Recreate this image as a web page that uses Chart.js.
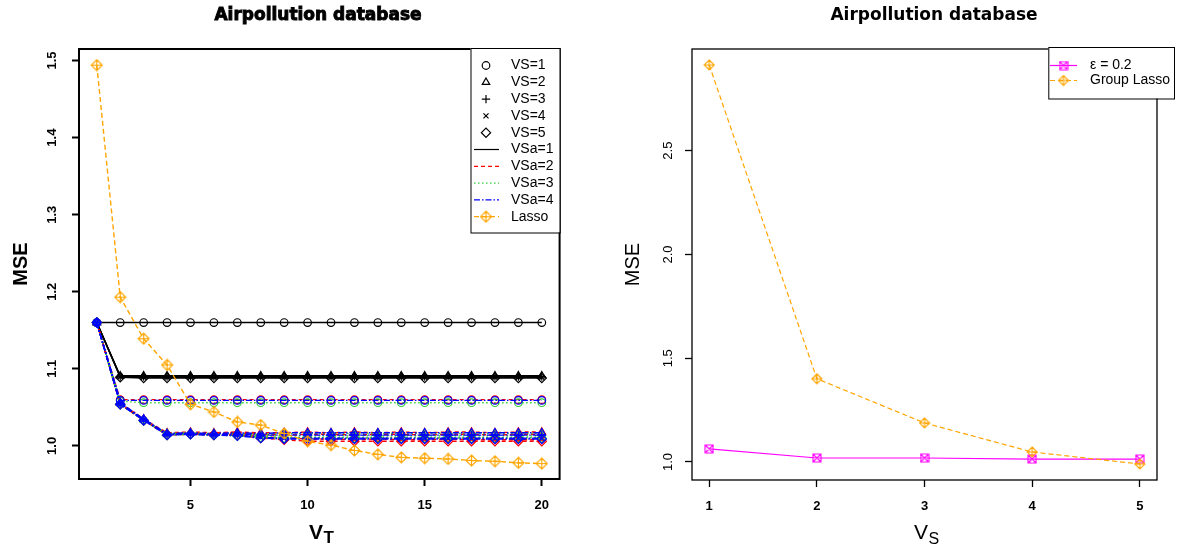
<!DOCTYPE html>
<html>
<head>
<meta charset="utf-8">
<title>Airpollution database</title>
<script src="https://cdn.jsdelivr.net/npm/chart.js@4.4.0/dist/chart.umd.min.js"></script>
<style>
  html, body { margin: 0; padding: 0; background: #fff; }
  #wrap { position: relative; width: 1186px; height: 550px; }
  .pane { position: absolute; top: 0; width: 593px; height: 550px; }
</style>
</head>
<body>
<div id="wrap">
  <div class="pane" style="left:0"><canvas id="leftChart"></canvas></div>
  <div class="pane" style="left:593px"><canvas id="rightChart"></canvas></div>
</div>
<script>
// ---- data ----
const vT = [1, 2, 3, 4, 5, 6, 7, 8, 9, 10, 11, 12, 13, 14, 15, 16, 17, 18, 19, 20];
const leftXTicks = [5, 10, 15, 20];
const leftYTicks = [1.0, 1.1, 1.2, 1.3, 1.4, 1.5];

const lassoMSE = [1.494, 1.193, 1.139, 1.105, 1.054, 1.044, 1.031, 1.027, 1.016, 1.006,
                  1.001, 0.994, 0.989, 0.985, 0.984, 0.983, 0.981, 0.980, 0.978, 0.977];

// VSa = 1 (black solid)
const vs1_vsa1 = [1.160, 1.160, 1.160, 1.160, 1.160, 1.160, 1.160, 1.160, 1.160, 1.160,
                  1.160, 1.160, 1.160, 1.160, 1.160, 1.160, 1.160, 1.160, 1.160, 1.160];
const vs2_vsa1 = [1.160, 1.091, 1.091, 1.091, 1.091, 1.091, 1.091, 1.091, 1.091, 1.091,
                  1.091, 1.091, 1.091, 1.091, 1.091, 1.091, 1.091, 1.091, 1.091, 1.091];
const vs3_vsa1 = [1.160, 1.090, 1.090, 1.090, 1.090, 1.090, 1.090, 1.090, 1.090, 1.090,
                  1.090, 1.090, 1.090, 1.090, 1.090, 1.090, 1.090, 1.090, 1.090, 1.090];
const vs4_vsa1 = [1.160, 1.090, 1.089, 1.089, 1.089, 1.089, 1.089, 1.089, 1.089, 1.089,
                  1.089, 1.089, 1.089, 1.089, 1.089, 1.089, 1.089, 1.089, 1.089, 1.089];
const vs5_vsa1 = [1.160, 1.089, 1.088, 1.088, 1.088, 1.088, 1.088, 1.088, 1.088, 1.088,
                  1.088, 1.088, 1.088, 1.088, 1.088, 1.088, 1.088, 1.088, 1.088, 1.088];

// VSa = 2 (red dashed)
const vs1_vsa2 = [1.160, 1.060, 1.060, 1.060, 1.060, 1.060, 1.060, 1.060, 1.060, 1.060,
                  1.060, 1.060, 1.060, 1.060, 1.060, 1.060, 1.060, 1.060, 1.060, 1.060];
const vs2_vsa2 = [1.160, 1.056, 1.035, 1.017, 1.018, 1.017, 1.018, 1.017, 1.017, 1.018,
                  1.017, 1.018, 1.017, 1.018, 1.017, 1.018, 1.018, 1.017, 1.018, 1.018];
const vs3_vsa2 = [1.160, 1.055, 1.034, 1.016, 1.016, 1.016, 1.017, 1.015, 1.014, 1.015,
                  1.015, 1.014, 1.015, 1.015, 1.014, 1.015, 1.015, 1.014, 1.015, 1.015];
const vs4_vsa2 = [1.160, 1.054, 1.034, 1.015, 1.016, 1.015, 1.015, 1.012, 1.010, 1.009,
                  1.009, 1.008, 1.009, 1.008, 1.008, 1.009, 1.008, 1.008, 1.008, 1.008];
const vs5_vsa2 = [1.160, 1.054, 1.033, 1.014, 1.015, 1.014, 1.014, 1.010, 1.008, 1.006,
                  1.006, 1.006, 1.006, 1.006, 1.006, 1.006, 1.006, 1.006, 1.006, 1.006];

// VSa = 3 (green dotted)
const vs1_vsa3 = [1.160, 1.058, 1.056, 1.056, 1.056, 1.056, 1.056, 1.056, 1.056, 1.056,
                  1.056, 1.056, 1.056, 1.056, 1.056, 1.056, 1.056, 1.056, 1.056, 1.056];
const vs2_vsa3 = [1.160, 1.055, 1.034, 1.016, 1.017, 1.016, 1.016, 1.015, 1.016, 1.016,
                  1.016, 1.016, 1.016, 1.016, 1.016, 1.016, 1.016, 1.016, 1.016, 1.016];
const vs3_vsa3 = [1.160, 1.055, 1.034, 1.015, 1.016, 1.015, 1.015, 1.014, 1.013, 1.013,
                  1.013, 1.013, 1.013, 1.013, 1.013, 1.013, 1.013, 1.013, 1.013, 1.013];
const vs4_vsa3 = [1.160, 1.054, 1.033, 1.015, 1.015, 1.014, 1.014, 1.012, 1.011, 1.011,
                  1.011, 1.011, 1.011, 1.011, 1.011, 1.011, 1.011, 1.011, 1.011, 1.011];
const vs5_vsa3 = [1.160, 1.054, 1.033, 1.014, 1.015, 1.014, 1.013, 1.011, 1.010, 1.010,
                  1.010, 1.010, 1.010, 1.010, 1.010, 1.010, 1.010, 1.010, 1.010, 1.010];

// VSa = 4 (blue dot-dash)
const vs1_vsa4 = [1.160, 1.059, 1.059, 1.059, 1.059, 1.059, 1.059, 1.059, 1.059, 1.059,
                  1.059, 1.059, 1.059, 1.059, 1.059, 1.059, 1.059, 1.059, 1.059, 1.059];
const vs2_vsa4 = [1.160, 1.056, 1.035, 1.016, 1.017, 1.016, 1.017, 1.016, 1.017, 1.017,
                  1.017, 1.017, 1.017, 1.017, 1.017, 1.017, 1.017, 1.017, 1.017, 1.017];
const vs3_vsa4 = [1.160, 1.055, 1.034, 1.015, 1.016, 1.015, 1.015, 1.014, 1.014, 1.014,
                  1.014, 1.014, 1.014, 1.014, 1.014, 1.014, 1.014, 1.014, 1.014, 1.014];
const vs4_vsa4 = [1.160, 1.054, 1.034, 1.015, 1.015, 1.014, 1.014, 1.011, 1.010, 1.010,
                  1.010, 1.010, 1.010, 1.010, 1.010, 1.010, 1.010, 1.010, 1.010, 1.010];
const vs5_vsa4 = [1.160, 1.054, 1.033, 1.014, 1.015, 1.014, 1.013, 1.010, 1.009, 1.009,
                  1.009, 1.009, 1.009, 1.009, 1.009, 1.009, 1.009, 1.009, 1.009, 1.009];

const leftLegendLabels = ["VS=1", "VS=2", "VS=3", "VS=4", "VS=5",
                          "VSa=1", "VSa=2", "VSa=3", "VSa=4", "Lasso"];

// right panel
const vS = [1, 2, 3, 4, 5];
const rightXTicks = [1, 2, 3, 4, 5];
const rightYTicks = [1.0, 1.5, 2.0, 2.5];
const epsMSE = [1.063, 1.019, 1.019, 1.014, 1.014];
const groupLassoMSE = [2.913, 1.401, 1.188, 1.048, 0.990];
const rightLegendLabels = ["\u03b5 = 0.2", "Group Lasso"];

// ---- styles ----
const ORANGE = "#ffa500";
const MAGENTA = "#ff00ff";
const SANS = '"Liberation Sans", Arial, sans-serif';
const vsaStyles = [
  { color: "#000000", dash: [], width: 1.4 },
  { color: "#ff0000", dash: [4, 3], width: 1.4 },
  { color: "#33cc33", dash: [1.5, 2.5], width: 1.4 },
  { color: "#0000ff", dash: [6, 2, 1.5, 2], width: 1.4 },
];
const vsShapes = ["circle", "triangle", "cross", "crossRot", "rectRot"];
const vsRadius = [3.8, 4.3, 4.2, 3.6, 4.6];

Chart.defaults.font.family = SANS;
Chart.defaults.color = "#000";

// R-like marker images: diamond with plus (pch 9) and square with x (pch 7)
function makeMarker(kind, color, size) {
  const c = document.createElement("canvas");
  c.width = size;
  c.height = size;
  const g = c.getContext("2d");
  g.strokeStyle = color;
  g.lineWidth = 1.1;
  const m = size / 2;
  const r = size / 2 - 1;
  g.beginPath();
  if (kind === "diamondPlus") {
    g.moveTo(m, m - r); g.lineTo(m + r, m); g.lineTo(m, m + r); g.lineTo(m - r, m); g.closePath();
    g.moveTo(m, m - r); g.lineTo(m, m + r);
    g.moveTo(m - r, m); g.lineTo(m + r, m);
  } else {
    g.rect(m - r, m - r, 2 * r, 2 * r);
    g.moveTo(m - r, m - r); g.lineTo(m + r, m + r);
    g.moveTo(m + r, m - r); g.lineTo(m - r, m + r);
  }
  g.stroke();
  return c;
}
const diamondPlusL = makeMarker("diamondPlus", ORANGE, 13);
const diamondPlusR = makeMarker("diamondPlus", ORANGE, 12);
const squareTimes = makeMarker("squareTimes", MAGENTA, 10);

function xy(xs, ys) {
  return xs.map((x, i) => ({ x: x, y: ys[i] }));
}

// ---- left datasets ----
const vsaSeries = [
  [vs1_vsa1, vs2_vsa1, vs3_vsa1, vs4_vsa1, vs5_vsa1],
  [vs1_vsa2, vs2_vsa2, vs3_vsa2, vs4_vsa2, vs5_vsa2],
  [vs1_vsa3, vs2_vsa3, vs3_vsa3, vs4_vsa3, vs5_vsa3],
  [vs1_vsa4, vs2_vsa4, vs3_vsa4, vs4_vsa4, vs5_vsa4],
];
const leftDatasets = [];
vsaSeries.forEach((group, a) => {
  const st = vsaStyles[a];
  group.forEach((vals, s) => {
    leftDatasets.push({
      label: "VS=" + (s + 1) + ", VSa=" + (a + 1),
      data: xy(vT, vals),
      borderColor: st.color,
      borderWidth: st.width,
      borderDash: st.dash,
      pointStyle: vsShapes[s],
      pointRadius: vsRadius[s],
      pointBorderWidth: 1.2,
      pointBorderColor: st.color,
      pointBackgroundColor: "rgba(0,0,0,0)",
      order: 4 - a,
    });
  });
});
leftDatasets.push({
  label: "Lasso",
  data: xy(vT, lassoMSE),
  borderColor: ORANGE,
  borderWidth: 1.4,
  borderDash: [5, 3],
  pointStyle: diamondPlusL,
  pointRadius: 5,
  order: 0,
});

// ---- decoration plugin: title, box, x title with subscript, R style legend ----
const rDecor = {
  id: "rDecor",
  afterDraw(chart, args, o) {
    const ctx = chart.ctx;
    const a = chart.chartArea;
    ctx.save();
    // box
    ctx.strokeStyle = "#000";
    ctx.lineWidth = o.boxWidth;
    ctx.setLineDash([]);
    ctx.strokeRect(a.left, a.top, a.right - a.left, a.bottom - a.top);

    // title
    ctx.fillStyle = "#000";
    ctx.font = 'bold 17px "DejaVu Sans", sans-serif';
    ctx.textAlign = "center";
    ctx.textBaseline = "alphabetic";
    ctx.fillText(o.title, o.titleX, 20);
    if (o.titleHeavy) {
      ctx.lineWidth = 0.9;
      ctx.strokeText(o.title, o.titleX, 20);
    }

    // x axis title with subscript
    const xt = o.xTitle;
    ctx.textAlign = "left";
    ctx.font = xt.weight + " " + xt.size + "px " + SANS;
    ctx.fillText(xt.main, xt.x, xt.y);
    const w = ctx.measureText(xt.main).width;
    ctx.font = xt.weight + " " + xt.subSize + "px " + SANS;
    ctx.fillText(xt.sub, xt.x + w + 0.5, xt.y + xt.subShift);

    // legend
    const lg = o.legend;
    ctx.lineWidth = 1;
    ctx.strokeStyle = "#000";
    ctx.fillStyle = "#fff";
    ctx.fillRect(lg.box[0], lg.box[1], lg.box[2] - lg.box[0], lg.box[3] - lg.box[1]);
    ctx.strokeRect(lg.box[0] + 0.5, lg.box[1] + 0.5, lg.box[2] - lg.box[0], lg.box[3] - lg.box[1]);
    lg.items.forEach((it, i) => {
      const y = lg.rowY0 + i * lg.rowStep;
      if (it.line) {
        ctx.strokeStyle = it.line.color;
        ctx.lineWidth = it.line.width;
        ctx.setLineDash(it.line.dash);
        ctx.beginPath();
        ctx.moveTo(lg.lineX0, y);
        ctx.lineTo(lg.lineX1, y);
        ctx.stroke();
        ctx.setLineDash([]);
      }
      if (it.point) {
        ctx.strokeStyle = it.point.color;
        ctx.fillStyle = "rgba(0,0,0,0)";
        ctx.lineWidth = 1.2;
        Chart.helpers.drawPoint(ctx, {
          pointStyle: it.point.style,
          radius: it.point.radius,
          borderWidth: 1.2,
          rotation: 0,
        }, lg.symX, y);
      }
      ctx.fillStyle = "#000";
      ctx.font = "14px " + SANS;
      ctx.textAlign = "left";
      ctx.textBaseline = "middle";
      ctx.fillText(it.label, lg.textX, y);
    });
    ctx.restore();
  },
};

const leftLegendItems = leftLegendLabels.map((label, i) => {
  if (i < 5) return { label, point: { style: vsShapes[i], radius: vsRadius[i], color: "#000" } };
  if (i < 9) {
    const st = vsaStyles[i - 5];
    return { label, line: { color: st.color, width: 1.2, dash: st.dash } };
  }
  return { label, line: { color: ORANGE, width: 1.2, dash: [5, 3] }, point: { style: diamondPlusL, radius: 5, color: ORANGE } };
});

function tickGrid(width) {
  return { display: true, drawOnChartArea: false, drawTicks: true, tickLength: 7, tickWidth: width, tickColor: "#000" };
}

new Chart(document.getElementById("leftChart"), {
  type: "line",
  data: { datasets: leftDatasets },
  plugins: [rDecor],
  options: {
    responsive: true,
    maintainAspectRatio: false,
    animation: false,
    devicePixelRatio: 1,
    layout: { padding: { top: 49, right: 33.4, left: 0, bottom: 0 } },
    elements: { line: { tension: 0 } },
    scales: {
      x: {
        type: "linear",
        min: 0.24,
        max: 20.76,
        afterBuildTicks: (s) => { s.ticks = leftXTicks.map((v) => ({ value: v })); },
        afterFit: (s) => { s.height = 71; },
        grid: tickGrid(2),
        border: { display: false },
        ticks: { font: { size: 13, weight: "bold" }, padding: 12, maxRotation: 0, autoSkip: false },
      },
      y: {
        type: "linear",
        min: 0.957,
        max: 1.515,
        afterBuildTicks: (s) => { s.ticks = leftYTicks.map((v) => ({ value: v })); },
        afterFit: (s) => { s.width = 79; },
        grid: tickGrid(2),
        border: { display: false },
        ticks: {
          callback: (v) => v.toFixed(1),
          font: { size: 13, weight: "bold" },
          minRotation: 90,
          maxRotation: 90,
          crossAlign: "center",
          padding: 11,
          autoSkip: false,
        },
        title: { display: true, text: "MSE", font: { size: 20, weight: "bold" }, padding: { top: 9, bottom: 0 } },
      },
    },
    plugins: {
      legend: { display: false },
      tooltip: { enabled: false },
      rDecor: {
        boxWidth: 2,
        title: "Airpollution database",
        titleX: 318,
        titleHeavy: true,
        xTitle: { main: "V", sub: "T", weight: "bold", size: 21, subSize: 17, subShift: 3.5, x: 309, y: 539 },
        legend: {
          box: [470.5, 48, 559.7, 232.5],
          rowY0: 65.5,
          rowStep: 16.8,
          symX: 486,
          lineX0: 474,
          lineX1: 499,
          textX: 511,
          items: leftLegendItems,
        },
      },
    },
  },
});

// ---- right chart ----
new Chart(document.getElementById("rightChart"), {
  type: "line",
  data: {
    datasets: [
      {
        label: rightLegendLabels[1],
        data: xy(vS, groupLassoMSE),
        borderColor: ORANGE,
        borderWidth: 1.2,
        borderDash: [5, 3],
        pointStyle: diamondPlusR,
        pointRadius: 5,
      },
      {
        label: rightLegendLabels[0],
        data: xy(vS, epsMSE),
        borderColor: MAGENTA,
        borderWidth: 1.2,
        pointStyle: squareTimes,
        pointRadius: 4,
      },
    ],
  },
  plugins: [rDecor],
  options: {
    responsive: true,
    maintainAspectRatio: false,
    animation: false,
    devicePixelRatio: 1,
    layout: { padding: { top: 49, right: 29, left: 0, bottom: 0 } },
    elements: { line: { tension: 0 } },
    scales: {
      x: {
        type: "linear",
        min: 0.84,
        max: 5.16,
        afterBuildTicks: (s) => { s.ticks = rightXTicks.map((v) => ({ value: v })); },
        afterFit: (s) => { s.height = 70; },
        grid: tickGrid(1.3),
        border: { display: false },
        ticks: { font: { size: 13, weight: "bold" }, padding: 12, maxRotation: 0, autoSkip: false },
      },
      y: {
        type: "linear",
        min: 0.913,
        max: 2.99,
        afterBuildTicks: (s) => { s.ticks = rightYTicks.map((v) => ({ value: v })); },
        afterFit: (s) => { s.width = 99; },
        grid: tickGrid(1.3),
        border: { display: false },
        ticks: {
          callback: (v) => v.toFixed(1),
          font: { size: 13 },
          minRotation: 90,
          maxRotation: 90,
          crossAlign: "center",
          padding: 8,
          autoSkip: false,
        },
        title: { display: true, text: "MSE", font: { size: 20 }, padding: { top: 28, bottom: 0 } },
      },
    },
    plugins: {
      legend: { display: false },
      tooltip: { enabled: false },
      rDecor: {
        boxWidth: 1.3,
        title: "Airpollution database",
        titleX: 341,
        titleHeavy: false,
        xTitle: { main: "V", sub: "S", weight: "normal", size: 21, subSize: 16, subShift: 5, x: 321, y: 539 },
        legend: {
          box: [455.3, 47, 581, 98.5],
          rowY0: 65.5,
          rowStep: 15,
          symX: 470.5,
          lineX0: 457,
          lineX1: 484,
          textX: 497,
          items: [
            { label: rightLegendLabels[0], line: { color: MAGENTA, width: 1.2, dash: [] }, point: { style: squareTimes, radius: 4, color: MAGENTA } },
            { label: rightLegendLabels[1], line: { color: ORANGE, width: 1.2, dash: [5, 3] }, point: { style: diamondPlusR, radius: 5, color: ORANGE } },
          ],
        },
      },
    },
  },
});
</script>
</body>
</html>
